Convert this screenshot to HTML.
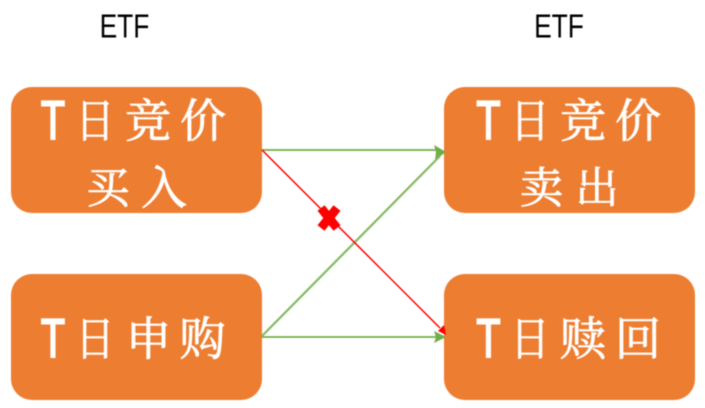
<!DOCTYPE html>
<html><head><meta charset="utf-8"><style>
html,body{margin:0;padding:0;background:#fff;width:705px;height:408px;overflow:hidden}
svg{display:block}
.c{font-family:"Liberation Serif","Noto Serif CJK SC",serif;font-size:46px;fill:#fff;text-anchor:middle;stroke:#fff;stroke-width:.8px}
.s{font-size:43px}
.t{font-family:"Liberation Sans",sans-serif;font-size:55px;fill:#fff;stroke:#fff;stroke-width:2px;text-anchor:middle}
.e{font-family:"Liberation Sans",sans-serif;font-size:33px;fill:#000;text-anchor:middle}
.b{filter:blur(.45px)}
</style></head><body>
<svg width="705" height="408" viewBox="0 0 705 408" xmlns="http://www.w3.org/2000/svg">
<g class="b">
<text class="e" transform="translate(124.5 37.5) scale(.8 1)">ETF</text>
<text class="e" transform="translate(559 37.5) scale(.8 1)">ETF</text>
<rect x="11" y="87" width="251" height="126" rx="21" fill="#ed7d31"/>
<rect x="444" y="87" width="251" height="126" rx="21" fill="#ed7d31"/>
<rect x="11" y="274" width="251" height="126" rx="21" fill="#ed7d31"/>
<rect x="444" y="274" width="251" height="126" rx="21" fill="#ed7d31"/>

<text class="t" transform="translate(53 139) scale(.72 1)">T</text>
<text class="c" transform="translate(95 137) scale(.85 1)">日</text>
<text class="c" x="148" y="137">竞</text>
<text class="c" x="203" y="137">价</text>
<text class="c s" x="108" y="203">买</text>
<text class="c" x="164" y="204">入</text>

<text class="t" transform="translate(488.500 139) scale(.72 1)">T</text>
<text class="c" transform="translate(530 137) scale(.85 1)">日</text>
<text class="c" x="583" y="137">竞</text>
<text class="c" x="638" y="137">价</text>
<text class="c s" x="541.500" y="203">卖</text>
<text class="c s" x="597" y="203">出</text>

<text class="t" transform="translate(53 357) scale(.72 1)">T</text>
<text class="c" transform="translate(95 355) scale(.85 1)">日</text>
<text class="c" x="148.500" y="355">申</text>
<text class="c" x="202.500" y="355">购</text>

<text class="t" transform="translate(488.500 357) scale(.72 1)">T</text>
<text class="c" transform="translate(530 355) scale(.85 1)">日</text>
<text class="c" x="583" y="355">赎</text>
<text class="c" x="638" y="355">回</text>

<line x1="262" y1="150" x2="436" y2="150" stroke="#70ad47" stroke-width="1.8"/>
<polygon points="446,152 434,145 436,152 435,160" fill="#70ad47"/>
<line x1="262" y1="337" x2="436" y2="337" stroke="#70ad47" stroke-width="1.8"/>
<polygon points="446,337 434,331 436,337 434,343" fill="#70ad47"/>
<line x1="262" y1="336" x2="440" y2="156" stroke="#84b962" stroke-width="2.2"/>
<line x1="262" y1="150" x2="440" y2="328" stroke="#f00" stroke-width="1.5"/>
<polygon points="446,335 438,331 444,325" fill="#f00"/>
<g stroke="#f00" stroke-width="9">
<line x1="321" y1="208" x2="337" y2="228"/>
<line x1="337" y1="208" x2="321" y2="228"/>
</g>
</g>
</svg>
</body></html>
